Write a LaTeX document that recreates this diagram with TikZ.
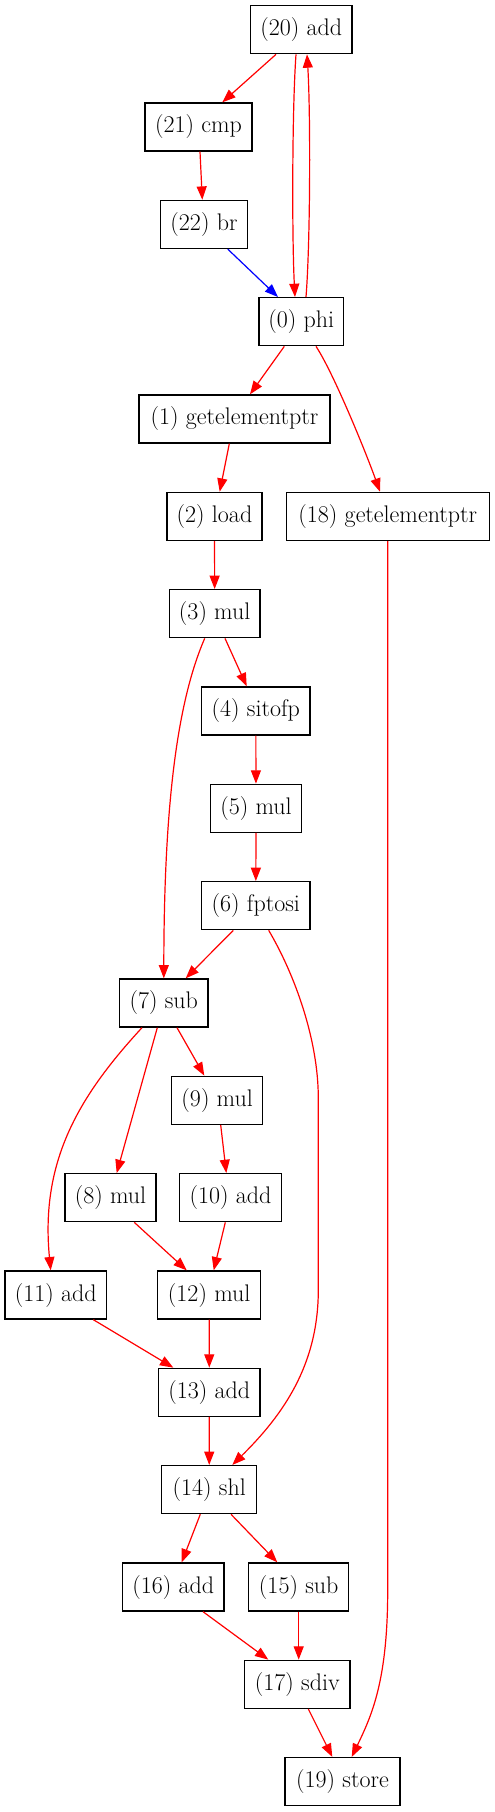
\documentclass[tikz,border=0pt]{standalone}
\usetikzlibrary{arrows.meta,calc}
\begin{document}
\begin{tikzpicture}[x=0.75pt,y=-0.75pt,
  bx/.style={draw=black, line width=1pt, minimum height=36pt, inner sep=0pt,
    minimum width=#1*0.75pt, font=\fontsize{18}{21}\selectfont},
  redge/.style={draw=red, line width=0.9pt, -{Triangle[length=10pt,width=7.5pt,fill=red]}},
  bedge/.style={draw=blue, line width=0.9pt, -{Triangle[length=10pt,width=7.5pt,fill=blue]}}]
\useasboundingbox (0,0) rectangle (495,1812);
% nodes
\node[bx=101.7] (n20) at (301.2,29.7) {(20) add};
\node[bx=107]   (n21) at (198.5,127.0) {(21) cmp};
\node[bx=86.7]  (n22) at (204,224.4) {(22) br};
\node[bx=84.3]  (n0)  at (301.2,321.7) {(0) phi};
\node[bx=191]   (n1)  at (234.5,419.0) {(1) getelementptr};
\node[bx=95]    (n2)  at (214.5,516.4) {(2) load};
\node[bx=203]   (n18) at (387.8,516.4) {(18) getelementptr};
\node[bx=90.7]  (n3)  at (214.7,613.7) {(3) mul};
\node[bx=108.3] (n4)  at (255.8,711.0) {(4) sitofp};
\node[bx=90.7]  (n5)  at (256,808.3) {(5) mul};
\node[bx=108.3] (n6)  at (255.8,905.7) {(6) fptosi};
\node[bx=88.3]  (n7)  at (163.8,1003.0) {(7) sub};
\node[bx=91]    (n9)  at (217.2,1100.3) {(9) mul};
\node[bx=91]    (n8)  at (110.5,1197.7) {(8) mul};
\node[bx=101.7] (n10) at (230.5,1197.7) {(10) add};
\node[bx=101.7] (n11) at (55.8,1295.0) {(11) add};
\node[bx=103]   (n12) at (209.2,1295.0) {(12) mul};
\node[bx=101.3] (n13) at (209.3,1392.3) {(13) add};
\node[bx=95]    (n14) at (209.2,1489.6) {(14) shl};
\node[bx=101.3] (n16) at (173.3,1587.0) {(16) add};
\node[bx=100]   (n15) at (298.7,1587.0) {(15) sub};
\node[bx=105.3] (n17) at (297.3,1684.3) {(17) sdiv};
\node[bx=115]   (n19) at (342.5,1781.6) {(19) store};
% edges
\draw[redge] ($(n20.south)+(-25.2,0)$) -- ($(n21.north)+(23.8,0)$);
\draw[redge] ($(n20.south)+(-5.2,0)$) .. controls (292,110) and (292,240) .. ($(n0.north)+(-6.2,0)$);
\draw[redge] ($(n0.north)+(4.8,0)$) .. controls (310.5,240) and (310.5,110) .. ($(n20.south)+(5.8,0)$);
\draw[redge] ($(n21.south)+(1.5,0)$) -- ($(n22.north)+(-1.7,0)$);
\draw[bedge] ($(n22.south)+(23.7,0)$) -- ($(n0.north)+(-23.2,0)$);
\draw[redge] ($(n0.south)+(-16.9,0)$) -- ($(n1.north)+(15.5,0)$);
\draw[redge] ($(n0.south)+(14.8,0)$) .. controls (333,372) and (365,450) .. ($(n18.north)+(-7.8,0)$);
\draw[redge] ($(n1.south)+(-5.2,0)$) -- ($(n2.north)+(5.2,0)$);
\draw[redge] (n2) -- (n3);
\draw[redge] (n18.south) -- (387.7,1590) .. controls (387.7,1680) and (372,1715) .. ($(n19.north)+(9.2,0)$);
\draw[redge] ($(n3.south)+(10.3,0)$) -- ($(n4.north)+(-9.1,0)$);
\draw[redge] ($(n3.south)+(-10,0)$) .. controls (178,700) and (164,800) .. (n7.north);
\draw[redge] (n4) -- (n5);
\draw[redge] (n5) -- (n6);
\draw[redge] ($(n6.south)+(-22.5,0)$) -- ($(n7.north)+(21.9,0)$);
\draw[redge] ($(n6.south)+(12.9,0)$) .. controls (295,975) and (318.3,1040) .. (318.3,1098) -- (318.3,1290) .. controls (318.3,1365) and (283,1415) .. ($(n14.north)+(23.1,0)$);
\draw[redge] ($(n7.south)+(13.2,0)$) -- ($(n9.north)+(-12.9,0)$);
\draw[redge] ($(n7.south)+(-6.5,0)$) -- ($(n8.north)+(6.2,0)$);
\draw[redge] ($(n7.south)+(-21.8,0)$) .. controls (80,1095) and (40,1160) .. ($(n11.north)+(-5.1,0)$);
\draw[redge] ($(n9.south)+(3.5,0)$) -- ($(n10.north)+(-4.2,0)$);
\draw[redge] ($(n8.south)+(23.8,0)$) -- ($(n12.north)+(-22.5,0)$);
\draw[redge] ($(n10.south)+(-5.2,0)$) -- ($(n12.north)+(4.5,0)$);
\draw[redge] ($(n11.south)+(37.5,0)$) -- ($(n13.north)+(-36,0)$);
\draw[redge] (n12) -- (n13);
\draw[redge] (n13) -- (n14);
\draw[redge] ($(n14.south)+(-8.9,0)$) -- ($(n16.north)+(8.4,0)$);
\draw[redge] ($(n14.south)+(21.8,0)$) -- ($(n15.north)+(-21.4,0)$);
\draw[redge] ($(n16.south)+(29.7,0)$) -- ($(n17.north)+(-29,0)$);
\draw[redge] (n15.south) -- (n15.south |- n17.north);
\draw[redge] ($(n17.south)+(11,0)$) -- ($(n19.north)+(-10.2,0)$);
\end{tikzpicture}
\end{document}
